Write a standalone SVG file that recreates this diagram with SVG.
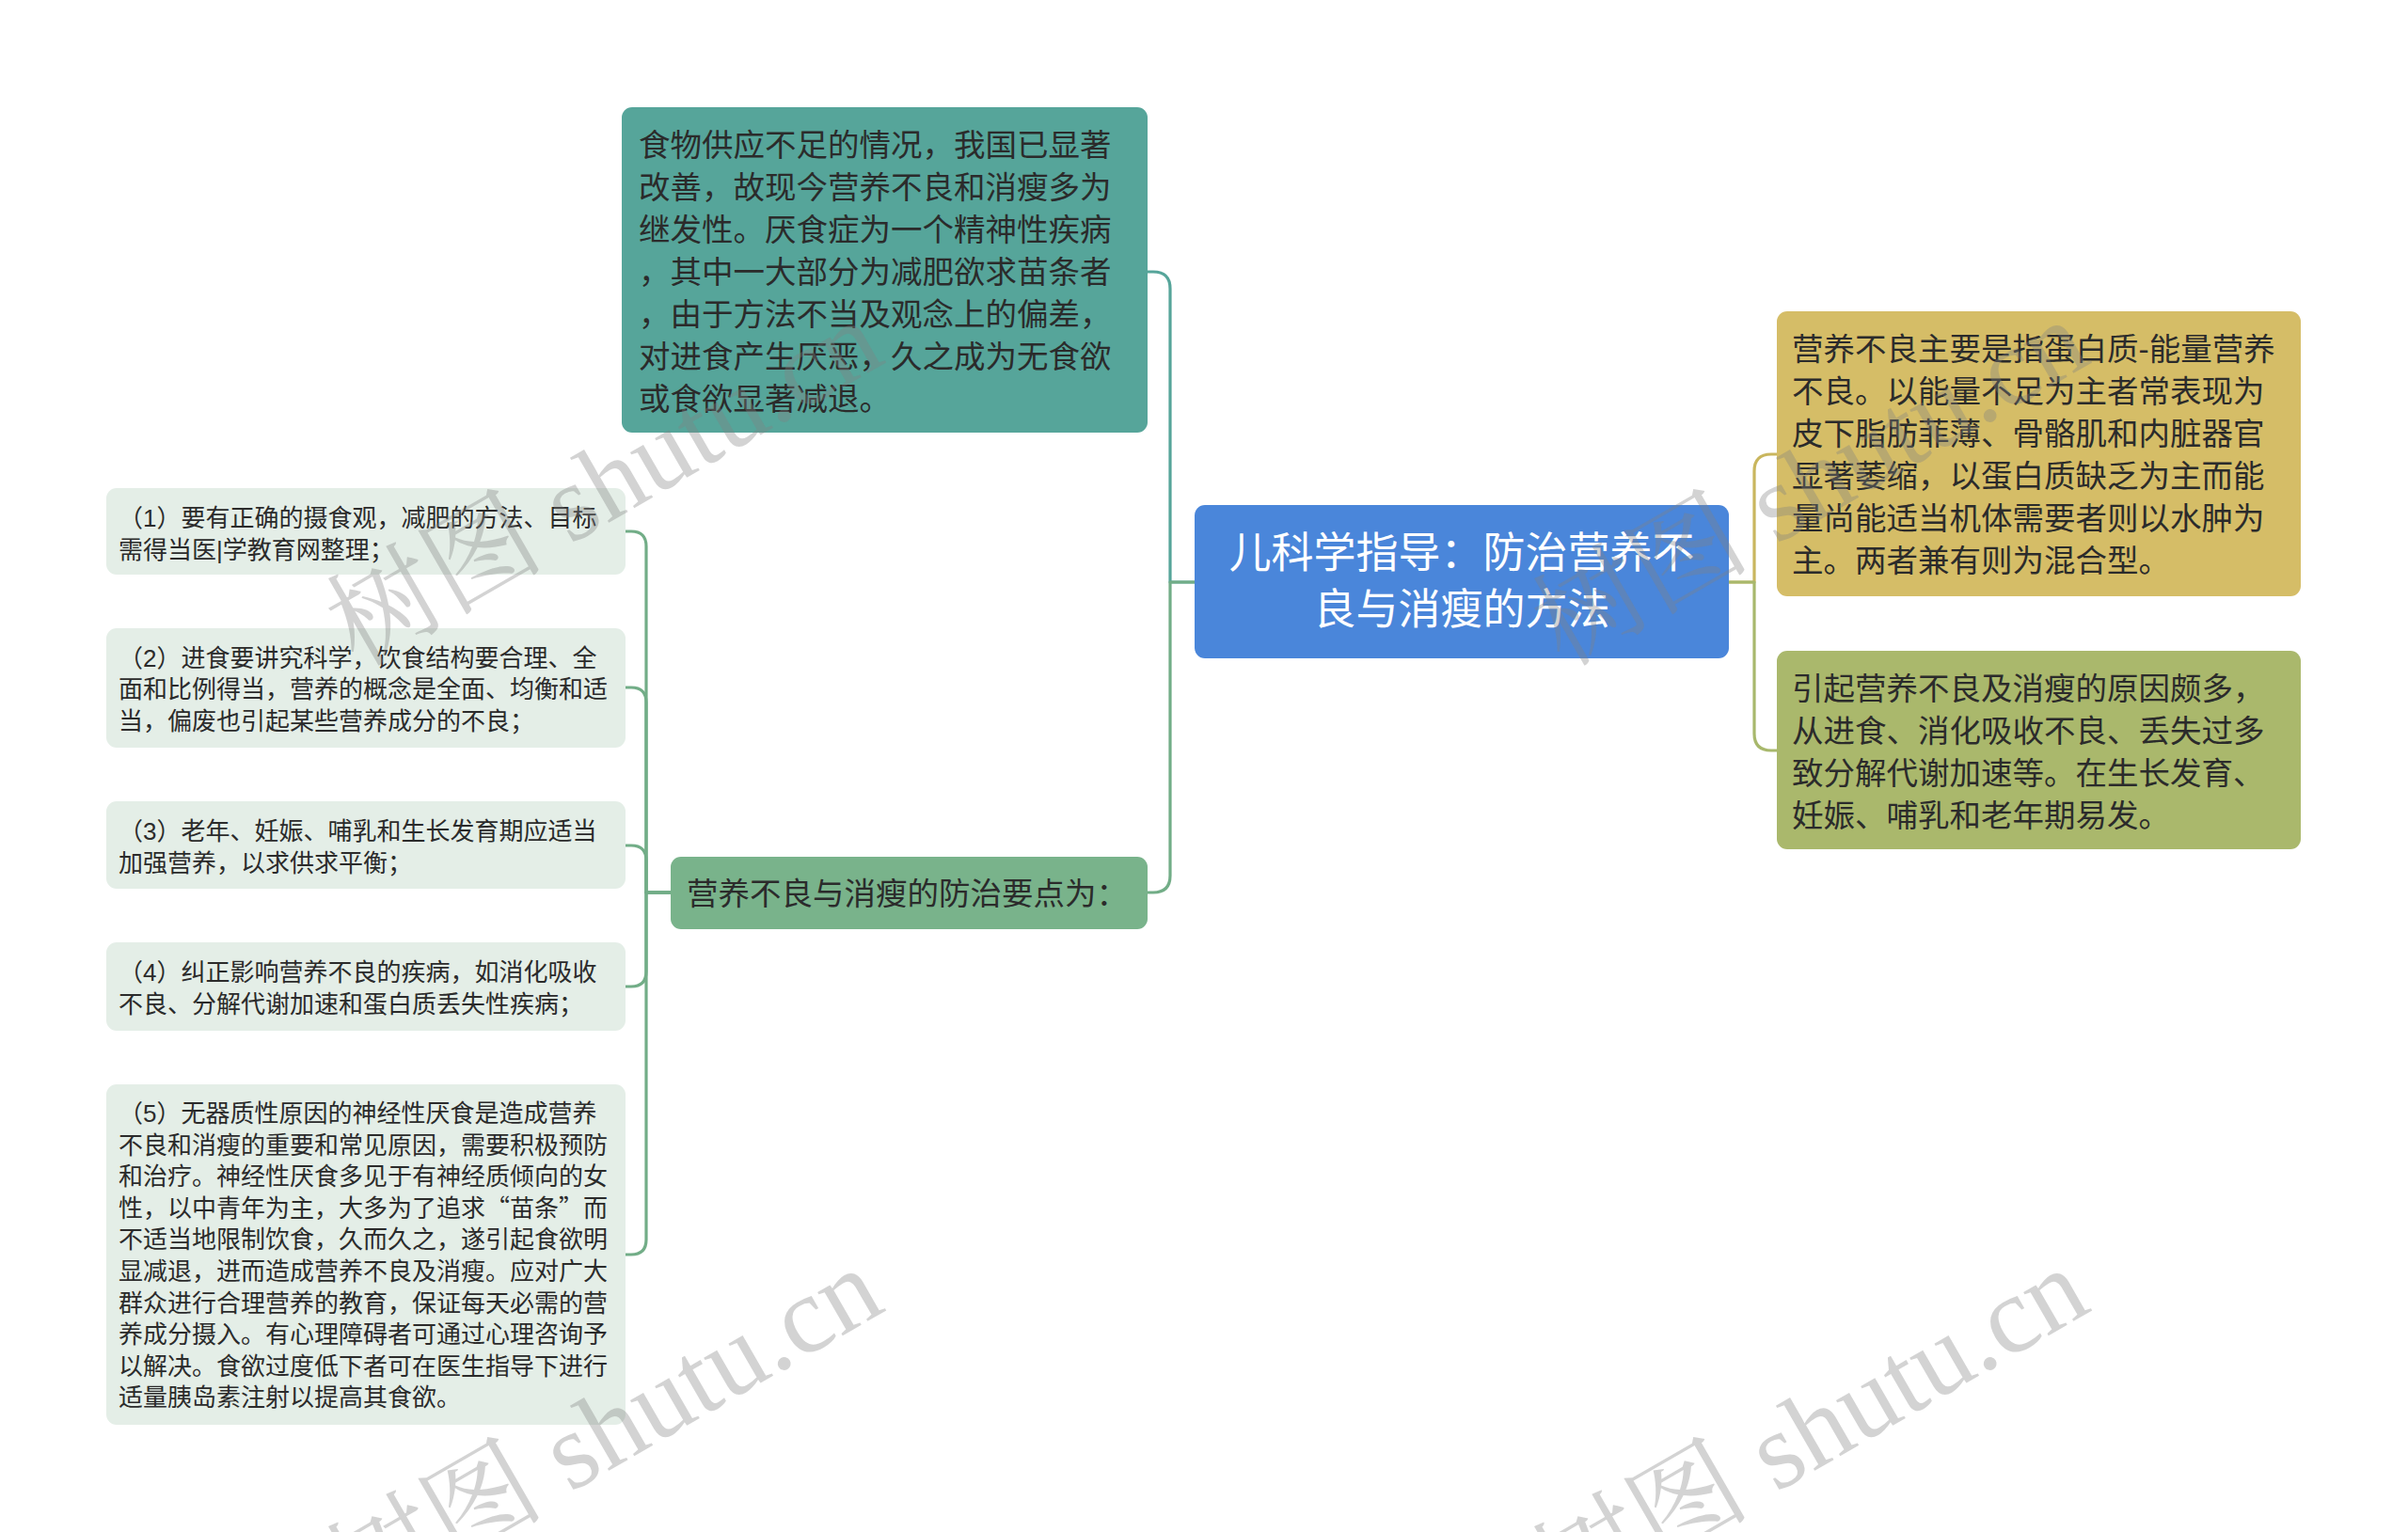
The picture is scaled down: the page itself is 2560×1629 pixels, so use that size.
<svg xmlns="http://www.w3.org/2000/svg" width="2560" height="1629" viewBox="0 0 2560 1629">
<style>
.t{font-family:"Liberation Sans","Noto Sans CJK SC",sans-serif;fill:#2b2b2b}
.cjk{font-family:"Noto Sans CJK SC",sans-serif}
.big{font-size:33.5px}
.leaf{font-size:26px}
.root{font-size:45px;fill:#ffffff;text-anchor:middle}
.conn{fill:none;stroke-width:3.2;stroke-linejoin:round}
.wm{font-family:"Liberation Serif","Noto Serif CJK SC","Noto Sans CJK SC",serif;font-size:116px;fill:#808080;fill-opacity:0.35}
.leafbox{fill:#e4eee7}
</style>
<rect width="2560" height="1629" fill="#ffffff"/>
<g id="connectors">
<path class="conn" stroke="#56a59a" d="M1270,619 H1244 V307 Q1244,289 1226,289 H1220"/>
<path class="conn" stroke="#72ad87" d="M1270,619 H1244 V931 Q1244,949 1226,949 H1220"/>
<path class="conn" stroke="#c9b65e" d="M1838,619 H1865 V501 Q1865,483 1883,483 H1889"/>
<path class="conn" stroke="#a8b86c" d="M1838,619 H1865 V780 Q1865,798 1883,798 H1889"/>
<path class="conn" stroke="#72ad87" d="M713,949 H687 V581 Q687,565 671,565 H665"/>
<path class="conn" stroke="#72ad87" d="M713,949 H687 V747 Q687,731 671,731 H665"/>
<path class="conn" stroke="#72ad87" d="M713,949 H687 V915 Q687,899 671,899 H665"/>
<path class="conn" stroke="#72ad87" d="M713,949 H687 V1033 Q687,1049 671,1049 H665"/>
<path class="conn" stroke="#72ad87" d="M713,949 H687 V1318 Q687,1334 671,1334 H665"/>
</g>
<g id="root">
<rect x="1270" y="537" width="568" height="163" rx="11" fill="#4a86da"/>
<text class="t root" x="1554" y="604">儿科学指导：防治营养不<tspan x="1554" dy="60">良与消瘦的方法</tspan></text>
</g>
<g id="node-teal">
<rect x="661" y="114" width="559" height="346" rx="11" fill="#56a59a"/>
<text class="t big" x="679" y="166">食物供应不足的情况，我国已显著<tspan x="679" dy="45">改善，故现今营养不良和消瘦多为</tspan><tspan x="679" dy="45">继发性。厌食症为一个精神性疾病</tspan><tspan x="679" dy="45">，其中一大部分为减肥欲求苗条者</tspan><tspan x="679" dy="45">，由于方法不当及观念上的偏差，</tspan><tspan x="679" dy="45">对进食产生厌恶，久之成为无食欲</tspan><tspan x="679" dy="45">或食欲显著减退。</tspan></text>
</g>
<g id="node-points">
<rect x="713" y="911" width="507" height="77" rx="11" fill="#79b38b"/>
<text class="t big" x="730" y="962">营养不良与消瘦的防治要点为：</text>
</g>
<g id="node-gold">
<rect x="1889" y="331" width="557" height="303" rx="11" fill="#d5bd67"/>
<text class="t big" x="1905" y="383">营养不良主要是指蛋白质-能量营养<tspan x="1905" dy="45">不良。以能量不足为主者常表现为</tspan><tspan x="1905" dy="45">皮下脂肪菲薄、骨骼肌和内脏器官</tspan><tspan x="1905" dy="45">显著萎缩，以蛋白质缺乏为主而能</tspan><tspan x="1905" dy="45">量尚能适当机体需要者则以水肿为</tspan><tspan x="1905" dy="45">主。两者兼有则为混合型。</tspan></text>
</g>
<g id="node-olive">
<rect x="1889" y="692" width="557" height="211" rx="11" fill="#aab86c"/>
<text class="t big" x="1905" y="744">引起营养不良及消瘦的原因颇多，<tspan x="1905" dy="45">从进食、消化吸收不良、丢失过多</tspan><tspan x="1905" dy="45">致分解代谢加速等。在生长发育、</tspan><tspan x="1905" dy="45">妊娠、哺乳和老年期易发。</tspan></text>
</g>
<g id="leaf1">
<rect class="leafbox" x="113" y="519" width="552" height="92" rx="11"/>
<text class="t leaf" x="126" y="560">（1）要有正确的摄食观，减肥的方法、目标<tspan x="126" dy="33.6">需得当医|学教育网整理；</tspan></text>
</g>
<g id="leaf2">
<rect class="leafbox" x="113" y="668" width="552" height="127" rx="11"/>
<text class="t leaf" x="126" y="708.5">（2）进食要讲究科学，饮食结构要合理、全<tspan x="126" dy="33.6">面和比例得当，营养的概念是全面、均衡和适</tspan><tspan x="126" dy="33.6">当，偏废也引起某些营养成分的不良；</tspan></text>
</g>
<g id="leaf3">
<rect class="leafbox" x="113" y="852" width="552" height="93" rx="11"/>
<text class="t leaf" x="126" y="893">（3）老年、妊娠、哺乳和生长发育期应适当<tspan x="126" dy="33.6">加强营养，以求供求平衡；</tspan></text>
</g>
<g id="leaf4">
<rect class="leafbox" x="113" y="1002" width="552" height="94" rx="11"/>
<text class="t leaf" x="126" y="1043">（4）纠正影响营养不良的疾病，如消化吸收<tspan x="126" dy="33.6">不良、分解代谢加速和蛋白质丢失性疾病；</tspan></text>
</g>
<g id="leaf5">
<rect class="leafbox" x="113" y="1153" width="552" height="362" rx="11"/>
<text class="t leaf" x="126" y="1193">（5）无器质性原因的神经性厌食是造成营养<tspan x="126" dy="33.6">不良和消瘦的重要和常见原因，需要积极预防</tspan><tspan x="126" dy="33.6">和治疗。神经性厌食多见于有神经质倾向的女</tspan><tspan x="126" dy="33.6">性，以中青年为主，大多为了追求<tspan class="cjk">“</tspan>苗条<tspan class="cjk">”</tspan>而</tspan><tspan x="126" dy="33.6">不适当地限制饮食，久而久之，遂引起食欲明</tspan><tspan x="126" dy="33.6">显减退，进而造成营养不良及消瘦。应对广大</tspan><tspan x="126" dy="33.6">群众进行合理营养的教育，保证每天必需的营</tspan><tspan x="126" dy="33.6">养成分摄入。有心理障碍者可通过心理咨询予</tspan><tspan x="126" dy="33.6">以解决。食欲过度低下者可在医生指导下进行</tspan><tspan x="126" dy="33.6">适量胰岛素注射以提高其食欲。</tspan></text>
</g>
<g id="watermarks">
<text class="wm" x="380" y="710" transform="rotate(-30 380 710)">树图 shutu.cn</text>
<text class="wm" x="1662" y="710" transform="rotate(-30 1662 710)">树图 shutu.cn</text>
<text class="wm" x="380" y="1718" transform="rotate(-30 380 1718)">树图 shutu.cn</text>
<text class="wm" x="1662" y="1718" transform="rotate(-30 1662 1718)">树图 shutu.cn</text>
</g>
</svg>
